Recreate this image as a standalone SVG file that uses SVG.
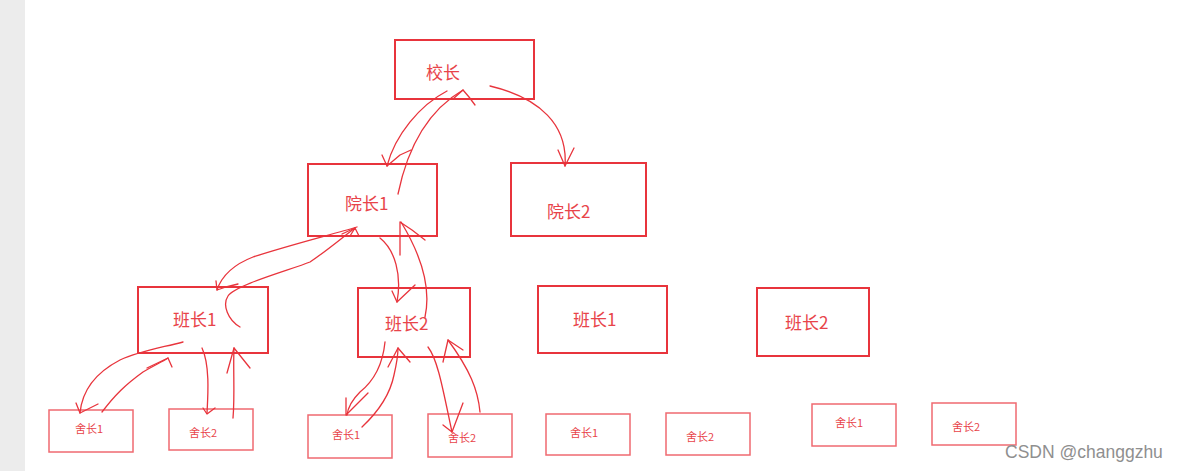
<svg xmlns="http://www.w3.org/2000/svg" width="1183" height="471" viewBox="0 0 1183 471">
<style>
.box{fill:#fff;stroke:#e8343c;stroke-width:2}
.sbox{fill:#fff;stroke:#ef6a70;stroke-width:1.5}
.t{font-family:"Noto Sans CJK SC","Microsoft YaHei",sans-serif;fill:#e8444a;font-size:17px}
.st{font-family:"Noto Sans CJK SC","Microsoft YaHei",sans-serif;fill:#e8444a;font-size:11px}
.c path{fill:none;stroke:#e8343c;stroke-width:1.3;stroke-linecap:round;stroke-linejoin:round}
</style>
<rect x="0" y="0" width="1183" height="471" fill="#fff"/>
<rect x="0" y="0" width="25" height="471" fill="#ececec"/>

<g id="n-xiaozhang"><rect class="box" x="395" y="40" width="139" height="59"/><text class="t" x="426" y="79">校长</text></g>
<g id="n-yuanzhang1"><rect class="box" x="308" y="164" width="129" height="72"/><text class="t" x="345" y="210">院长1</text></g>
<g id="n-yuanzhang2"><rect class="box" x="511" y="163" width="135" height="73"/><text class="t" x="547" y="218">院长2</text></g>
<g id="n-banzhang1a"><rect class="box" x="138" y="287" width="130" height="66"/><text class="t" x="173" y="326">班长1</text></g>
<g id="n-banzhang2a"><rect class="box" x="358" y="288" width="112" height="69"/><text class="t" x="385" y="330">班长2</text></g>
<g id="n-banzhang1b"><rect class="box" x="538" y="286" width="129" height="67"/><text class="t" x="573" y="326">班长1</text></g>
<g id="n-banzhang2b"><rect class="box" x="757" y="288" width="112" height="68"/><text class="t" x="785" y="329">班长2</text></g>
<g id="n-shezhang1a"><rect class="sbox" x="49" y="410" width="84" height="42"/><text class="st" x="75" y="433">舍长1</text></g>
<g id="n-shezhang2a"><rect class="sbox" x="169" y="409" width="84" height="41"/><text class="st" x="189" y="437">舍长2</text></g>
<g id="n-shezhang1b"><rect class="sbox" x="308" y="415" width="84" height="43"/><text class="st" x="332" y="439">舍长1</text></g>
<g id="n-shezhang2b"><rect class="sbox" x="428" y="414" width="84" height="43"/><text class="st" x="448" y="442">舍长2</text></g>
<g id="n-shezhang1c"><rect class="sbox" x="546" y="414" width="84" height="41"/><text class="st" x="570" y="437">舍长1</text></g>
<g id="n-shezhang2c"><rect class="sbox" x="666" y="413" width="84" height="42"/><text class="st" x="686" y="441">舍长2</text></g>
<g id="n-shezhang1d"><rect class="sbox" x="812" y="404" width="84" height="42"/><text class="st" x="835" y="427">舍长1</text></g>
<g id="n-shezhang2d"><rect class="sbox" x="932" y="403" width="84" height="42"/><text class="st" x="952" y="431">舍长2</text></g>

<g id="connectors" class="c">
<path d="M447 91 C420 105 395 135 387 166"/>
<path d="M382 155 L387 166 L400 155 L411 150"/>
<path d="M398 194 C405 160 420 115 463 90"/>
<path d="M453 99 L463 90 L469 97 L475 105"/>
<path d="M490 86 C540 98 568 125 565 166"/>
<path d="M558 150 L565 166 L574 148"/>
<path d="M357 227 C330 235 290 245 253 257 C235 264 222 275 217 290"/>
<path d="M216 281 L217 290 L226 287 L238 284"/>
<path d="M240 327 C228 320 222 305 228 296 C235 285 290 270 310 262 C325 252 343 237 355 228"/>
<path d="M342 234 L355 228 L350 236 M355 228 L359 236"/>
<path d="M380 238 C395 250 402 275 397 302"/>
<path d="M392 291 L397 302 L415 285"/>
<path d="M425 317 C432 285 418 250 401 222"/>
<path d="M400 255 L400 222 L412 230 L425 240"/>
<path d="M183 342 C160 348 140 351 120 360 C95 373 82 392 80 413"/>
<path d="M76 403 L80 413 L98 404"/>
<path d="M102 412 C115 395 125 385 143 372 C155 365 162 362 168 358"/>
<path d="M147 368 L168 358 L172 367"/>
<path d="M202 348 C210 365 208 395 207 413"/>
<path d="M203 408 L207 414 L215 408"/>
<path d="M233 418 C235 395 233 370 234 348"/>
<path d="M227 373 L234 348 L250 368"/>
<path d="M385 342 C383 362 375 380 360 392 C352 400 348 407 347 415"/>
<path d="M346 398 L346 415 L368 393"/>
<path d="M362 427 C378 412 390 395 394 375 C397 362 398 355 398 348"/>
<path d="M388 367 L398 348 L410 362"/>
<path d="M428 347 C438 360 443 390 452 432"/>
<path d="M443 425 L452 432 L463 403"/>
<path d="M480 412 C478 390 470 370 448 340"/>
<path d="M443 362 L448 340 L463 350"/>
</g>

<text x="1005" y="458" font-family="Liberation Sans,Arial,sans-serif" font-size="17.5" fill="#8f8f8f">CSDN @changgzhu</text>
</svg>
